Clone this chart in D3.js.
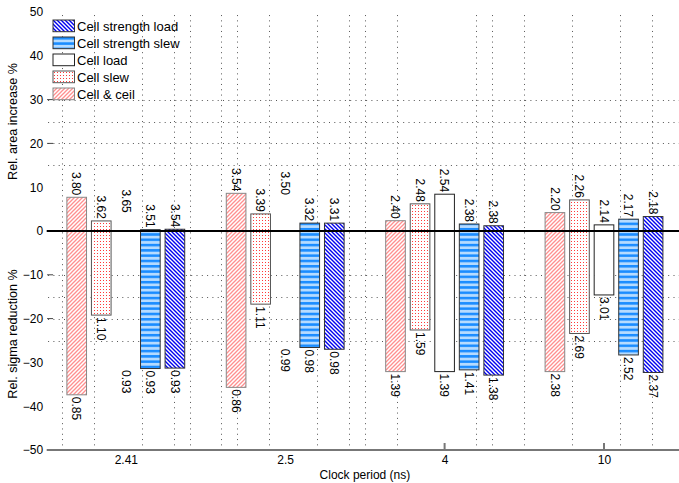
<!DOCTYPE html>
<html>
<head>
<meta charset="utf-8">
<script src="https://cdn.jsdelivr.net/npm/d3@7"></script>
<style>
  body { margin: 0; background: #fff; }
  svg { display: block; }
  text { font-family: "Liberation Sans", Arial, Helvetica, sans-serif; }
</style>
</head>
<body>
<svg id="chart" width="679" height="483"></svg>
<script>
// clock periods (ns), one bar group each
const GROUPS = ["2.41", "2.5", "4", "10"];
// bar order inside a group, left to right
const SERIES = ["Cell & ceil", "Cell slew", "Cell load", "Cell strength slew", "Cell strength load"];
// legend order, top to bottom
const LEGEND = ["Cell strength load", "Cell strength slew", "Cell load", "Cell slew", "Cell & ceil"];

// rows follow SERIES, columns follow GROUPS
const AREA_INCREASE = [
  [7.7, 8.6, 2.35, 4.2],
  [2.3, 3.9, 6.2, 7.1],
  [3.7, 7.8, 8.4, 1.4],
  [0.3, 1.8, 1.6, 2.7],
  [0.4, 1.8, 1.2, 3.3]
];
const SIGMA_REDUCTION = [
  [-37.4, -35.7, -32.1, -32.1],
  [-19.2, -16.7, -22.6, -23.4],
  [-31.3, -26.4, -32.1, -14.6],
  [-31.4, -26.6, -31.7, -28.3],
  [-31.3, -27.0, -32.9, -32.3]
];
const TOP_LABELS = [
  ["3.80", "3.54", "2.40", "2.20"],
  ["3.62", "3.39", "2.48", "2.26"],
  ["3.65", "3.50", "2.54", "2.14"],
  ["3.51", "3.32", "2.38", "2.17"],
  ["3.54", "3.31", "2.38", "2.18"]
];
const BOTTOM_LABELS = [
  ["0.85", "0.86", "1.39", "2.38"],
  ["1.10", "1.11", "1.59", "2.69"],
  ["0.93", "0.99", "1.39", "3.01"],
  ["0.93", "0.98", "1.41", "2.52"],
  ["0.93", "0.98", "1.38", "2.37"]
];

const Y_TICKS = [50, 40, 30, 20, 10, 0, -10, -20, -30, -40, -50];
const Y_TICK_MARKS = [30, 20, -10, -20];
const GRID_Y = [30, 25, 20, 15, -10, -15, -20, -25];
const GRID_X = [0.6, 0.8, 1.1, 1.3, 1.4, 1.6, 1.7, 1.9, 2.2, 2.4, 2.5, 2.7, 3.2, 3.3, 3.5, 3.8, 4.1, 4.3];
const X_TICK_MARKS = [3, 4];

// cell load bars of the first two groups are not drawn in the figure
const HIDDEN_LOAD_GROUPS = ["2.41", "2.5"];

const W = 679, H = 483;
const svg = d3.select("#chart");

const x = d3.scaleLinear().domain([0.5, 4.5]).range([46.1, 683.7]);
const y = d3.scaleLinear().domain([-50, 50]).range([450, 12]);
const inner = d3.scaleBand().domain(SERIES).range([-0.385, 0.385]).paddingInner(0.2).paddingOuter(0.1);
const barW = x(inner.bandwidth()) - x(0);

// fill patterns
const defs = svg.append("defs");
function pattern(id, w, h) {
  const p = defs.append("pattern").attr("id", id).attr("patternUnits", "userSpaceOnUse")
    .attr("width", w).attr("height", h);
  p.append("rect").attr("width", w).attr("height", h).attr("fill", "#fff");
  return p;
}
pattern("p-ceil", 4, 4).append("path")
  .attr("d", "M-1,1 l2,-2 M0,4 l4,-4 M3,5 l2,-2")
  .attr("stroke", "#ff8f8f").attr("stroke-width", 1.3);
pattern("p-slew", 3, 3).append("rect")
  .attr("x", 1).attr("y", 1).attr("width", 1).attr("height", 1).attr("fill", "#ff3a3a");
const ps = pattern("p-sslew", 4, 5.3);
ps.append("rect").attr("y", 0).attr("width", 4).attr("height", 2.6).attr("fill", "#1a8cff");
ps.append("rect").attr("y", 2.6).attr("width", 4).attr("height", 2.7).attr("fill", "#b5dbff");
pattern("p-sload", 4, 4).append("path")
  .attr("d", "M-1,3 l2,2 M0,0 l4,4 M3,-1 l2,2")
  .attr("stroke", "#0000f0").attr("stroke-width", 1.4);

const FILLS = {
  "Cell & ceil": "url(#p-ceil)",
  "Cell slew": "url(#p-slew)",
  "Cell load": "#fff",
  "Cell strength slew": "url(#p-sslew)",
  "Cell strength load": "url(#p-sload)"
};
const STROKES = {
  "Cell & ceil": "#888",
  "Cell slew": "#555",
  "Cell load": "#222",
  "Cell strength slew": "#333",
  "Cell strength load": "#333"
};

// dotted grid
const grid = svg.append("g").attr("stroke", "#555").attr("stroke-width", 1).attr("stroke-dasharray", "1,4.3");
grid.selectAll("line.gx").data(GRID_X).join("line").attr("class", "gx")
  .attr("x1", d => Math.round(x(d)) + 0.5).attr("x2", d => Math.round(x(d)) + 0.5)
  .attr("y1", y(49.3)).attr("y2", y(-49));
grid.selectAll("line.gy").data(GRID_Y).join("line").attr("class", "gy")
  .attr("x1", x(0.5) + 2).attr("x2", W)
  .attr("y1", d => Math.round(y(d)) + 0.5).attr("y2", d => Math.round(y(d)) + 0.5);

// bars
const bars = [];
SERIES.forEach((s, si) => {
  GROUPS.forEach((g, gi) => {
    bars.push({
      series: s, group: g, gi, si,
      top: AREA_INCREASE[si][gi], bottom: SIGMA_REDUCTION[si][gi],
      topLabel: TOP_LABELS[si][gi], bottomLabel: BOTTOM_LABELS[si][gi]
    });
  });
});
const cx = d => x(d.gi + 1 + inner(d.series) + inner.bandwidth() / 2);

svg.append("g").selectAll("rect")
  .data(bars.filter(d => !(d.series === "Cell load" && HIDDEN_LOAD_GROUPS.includes(d.group))))
  .join("rect")
  .attr("x", d => cx(d) - barW / 2)
  .attr("width", barW)
  .attr("y", d => y(d.top))
  .attr("height", d => y(d.bottom) - y(d.top))
  .attr("fill", d => FILLS[d.series])
  .attr("stroke", d => STROKES[d.series])
  .attr("stroke-width", 1);

// value labels, rotated
const labels = svg.append("g").attr("font-size", 12).attr("fill", "#000");
labels.selectAll("text.t").data(bars).join("text").attr("class", "t")
  .attr("transform", d => `translate(${cx(d) - 4.3},${y(d.top) - 2}) rotate(90)`)
  .attr("text-anchor", "end")
  .text(d => d.topLabel);
labels.selectAll("text.b").data(bars).join("text").attr("class", "b")
  .attr("transform", d => `translate(${cx(d) - 4.3},${y(d.bottom) + 2}) rotate(90)`)
  .attr("text-anchor", "start")
  .text(d => d.bottomLabel);

// zero line
svg.append("line").attr("x1", x(0.5) + 0.6).attr("x2", W)
  .attr("y1", y(0)).attr("y2", y(0)).attr("stroke", "#000").attr("stroke-width", 2);

// x axis
svg.append("line").attr("x1", x(0.5) + 0.6).attr("x2", W)
  .attr("y1", y(-50)).attr("y2", y(-50)).attr("stroke", "#777").attr("stroke-width", 2);
svg.append("g").selectAll("line").data(X_TICK_MARKS).join("line")
  .attr("x1", d => x(d)).attr("x2", d => x(d))
  .attr("y1", y(-50)).attr("y2", y(-50) - 7)
  .attr("stroke", "#777").attr("stroke-width", 2);

const xAxis = svg.append("g").attr("transform", `translate(0,${y(-50)})`)
  .call(d3.axisBottom(x).tickValues([1, 2, 3, 4]).tickFormat(i => GROUPS[i - 1]).tickSize(0).tickPadding(5));
xAxis.select(".domain").remove();
xAxis.selectAll("text").attr("font-size", 12).attr("font-family", null).attr("fill", "#000");

svg.append("text").attr("x", (x(0.5) + x(4.5)) / 2).attr("y", 479)
  .attr("text-anchor", "middle").attr("font-size", 12).text("Clock period (ns)");

// y axis
const yAxis = svg.append("g").attr("transform", `translate(${x(0.5)},0)`)
  .call(d3.axisLeft(y).tickValues(Y_TICKS).tickSize(0).tickPadding(3));
yAxis.select(".domain").remove();
yAxis.selectAll("text").attr("font-size", 12).attr("font-family", null).attr("fill", "#000");
svg.append("g").selectAll("line").data(Y_TICK_MARKS).join("line")
  .attr("x1", x(0.5) + 1).attr("x2", x(0.5) + 7)
  .attr("y1", d => y(d)).attr("y2", d => y(d))
  .attr("stroke", "#444").attr("stroke-width", 1);

svg.append("text").attr("transform", `translate(17,${y(25)}) rotate(-90)`)
  .attr("text-anchor", "middle").attr("font-size", 12.6).text("Rel. area increase %");
svg.append("text").attr("transform", `translate(17,${y(-23.5)}) rotate(-90)`)
  .attr("text-anchor", "middle").attr("font-size", 12.6).text("Rel. sigma reduction %");

// legend
const legend = svg.append("g").attr("transform", "translate(53,20)");
const item = legend.selectAll("g").data(LEGEND).join("g")
  .attr("transform", (d, i) => `translate(0,${i * 17})`);
item.append("rect").attr("width", 21.5).attr("height", 11.7)
  .attr("fill", d => FILLS[d]).attr("stroke", d => STROKES[d]).attr("stroke-width", 1);
item.append("text").attr("x", 24).attr("y", 10.5).attr("font-size", 13).text(d => d);
</script>
</body>
</html>
